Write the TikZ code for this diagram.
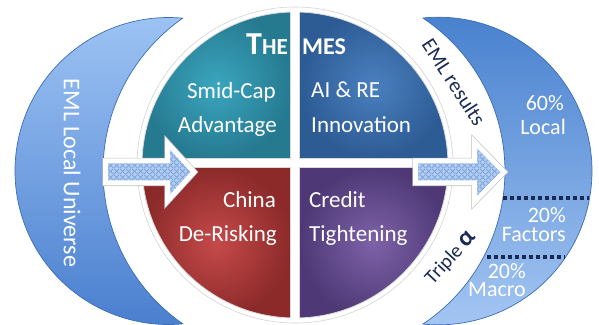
\documentclass[tikz,border=0pt]{standalone}
\usepackage{fontspec}
\setmainfont{Carlito}
\usetikzlibrary{patterns,calc}
\definecolor{lctop}{HTML}{9EC4F4}
\definecolor{lcbot}{HTML}{4A7FCF}
\definecolor{rctop}{HTML}{4780CE}
\definecolor{rcbot}{HTML}{A4C6F3}
\definecolor{cline}{HTML}{3A6DB5}
\definecolor{tealin}{HTML}{3AA6BF}
\definecolor{tealout}{HTML}{267A90}
\definecolor{bluein}{HTML}{4A80BF}
\definecolor{blueout}{HTML}{2D5B94}
\definecolor{redin}{HTML}{C64A4A}
\definecolor{redout}{HTML}{8C2A2A}
\definecolor{purin}{HTML}{7E62A8}
\definecolor{purout}{HTML}{4E3976}
\definecolor{navy}{HTML}{1B2A55}
\definecolor{arrowfill}{HTML}{B3CDF1}
\definecolor{arrowpat}{HTML}{7FA6DC}
\pgfdeclarepatternformonly{bigcross}{\pgfpointorigin}{\pgfpoint{6pt}{6pt}}{\pgfpoint{6pt}{6pt}}{%
  \pgfsetlinewidth{1.1pt}%
  \pgfpathmoveto{\pgfpoint{-0.1pt}{-0.1pt}}\pgfpathlineto{\pgfpoint{6.1pt}{6.1pt}}%
  \pgfpathmoveto{\pgfpoint{-0.1pt}{6.1pt}}\pgfpathlineto{\pgfpoint{6.1pt}{-0.1pt}}%
  \pgfusepath{stroke}}
\begin{document}
\begin{tikzpicture}[x=1pt,y=1pt,
  crescent/.style={draw=cline, line width=0.7},
  quad/.style={draw=gray!30, line width=0.8},
  qtext/.style={text=white, inner sep=0pt, font=\fontsize{23}{27}\selectfont},
  ctext/.style={text=white, inner sep=0pt, font=\fontsize{22}{26}\selectfont},
  arrowbox/.style={fill=arrowfill, line join=miter,
    preaction={draw=gray!50, line width=6.4, line join=miter},
    postaction={pattern=bigcross, pattern color=arrowpat},
    postaction={draw=white, line width=5, line join=miter}},
  dotline/.style={draw=navy, line width=3.2, dash pattern=on 3.6 off 3.4}
]
\useasboundingbox (0,0) rectangle (599,324);
% left crescent
\coordinate (lt) at (182.8,305.8);
\shade[crescent, top color=lctop, bottom color=lcbot]
  (lt) arc[start angle=84.65, end angle=275.35, radius=153.5]
  arc[start angle=235.13, end angle=124.87, radius=186.3] -- cycle;
% right crescent
\coordinate (rt) at (422.9,306);
\shade[crescent, top color=rctop, bottom color=rcbot]
  (rt) arc[start angle=95.71, end angle=-95.71, radius=153.8]
  arc[start angle=-56.4, end angle=56.4, radius=183.7] -- cycle;
% ring
\coordinate (c) at (295,159);
\draw[gray!35, line width=0.6] (c) circle[radius=158];
% quadrants
\coordinate (qtl) at (290.5,165.5);
\coordinate (qtr) at (299.5,165.5);
\coordinate (qbl) at (290.5,156.5);
\coordinate (qbr) at (299.5,156.5);
\shade[quad, inner color=tealin, outer color=tealout]
  (qtl) -- ([shift={(c)}]91.69:153) arc[start angle=91.69, end angle=177.56, radius=153] -- cycle;
\shade[quad, inner color=bluein, outer color=blueout]
  (qtr) -- ([shift={(c)}]88.31:153) arc[start angle=88.31, end angle=2.44, radius=153] -- cycle;
\shade[quad, inner color=redin, outer color=redout]
  (qbl) -- ([shift={(c)}]180.94:153) arc[start angle=180.94, end angle=268.31, radius=153] -- cycle;
\shade[quad, inner color=purin, outer color=purout]
  (qbr) -- ([shift={(c)}]-0.94:153) arc[start angle=-0.94, end angle=-88.31, radius=153] -- cycle;
% arrows
\path[arrowbox] (105.5,141) -- (167.5,141) -- (167.5,123) -- (194,152) -- (167.5,181) -- (167.5,163) -- (105.5,163) -- cycle;
\path[arrowbox] (415.5,141) -- (474.5,141) -- (474.5,122) -- (504,152) -- (474.5,182) -- (474.5,163) -- (415.5,163) -- cycle;
% title
\node[anchor=base east, text=white, inner sep=0pt] (the) at (288,269)
  {\bfseries\fontsize{32}{32}\selectfont T\fontsize{23}{23}\selectfont HE};
\node[anchor=base west, text=white, inner sep=0pt] (mes) at (302,269)
  {\bfseries\fontsize{24}{24}\selectfont MES};
% quadrant texts
\node[qtext, anchor=base east] (smid1) at (276,225) {Smid-Cap};
\node[qtext, anchor=base east] (smid2) at (277,191) {Advantage};
\node[qtext, anchor=base west] (ai1) at (311,226) {AI \& RE};
\node[qtext, anchor=base west] (ai2) at (311,191) {Innovation};
\node[qtext, anchor=base east] (ch1) at (276,117) {China};
\node[qtext, anchor=base east] (ch2) at (277,83) {De-Risking};
\node[qtext, anchor=base west] (cr1) at (309,117) {Credit};
\node[qtext, anchor=base west] (cr2) at (309,82) {Tightening};
% crescent texts
\node[text=white, inner sep=0pt, rotate=-90, font=\fontsize{24}{28}\selectfont] (univ) at (72,151) {EML Local Universe};
\node[ctext, anchor=base east] (p60) at (564,213) {60\%};
\node[ctext, anchor=base east] (loc) at (566,189) {Local};
\node[ctext, anchor=base east] (p20a) at (566,101) {20\%};
\node[ctext, anchor=base east] (fac) at (566,82) {Factors};
\node[ctext, anchor=base east] (p20b) at (526,46) {20\%};
\node[ctext, anchor=base east] (mac) at (526,28) {Macro};
% dotted separators
\coordinate (d1a) at (503,126);
\coordinate (d1b) at (589,126);
\coordinate (d2a) at (487,67);
\coordinate (d2b) at (565,67);
\draw[dotline] (d1a) -- (d1b);
\draw[dotline] (d2a) -- (d2b);
% side labels
\node[text=navy, inner sep=0pt, rotate=-57, font=\fontsize{21}{24}\selectfont] (emlres) at (454,242) {EML results};
\node[text=navy, inner sep=0pt, rotate=47, font=\fontsize{20}{24}\selectfont] (triple) at (451,66) {Triple {\bfseries\fontsize{25}{25}\selectfont α}};
\end{tikzpicture}
\end{document}
